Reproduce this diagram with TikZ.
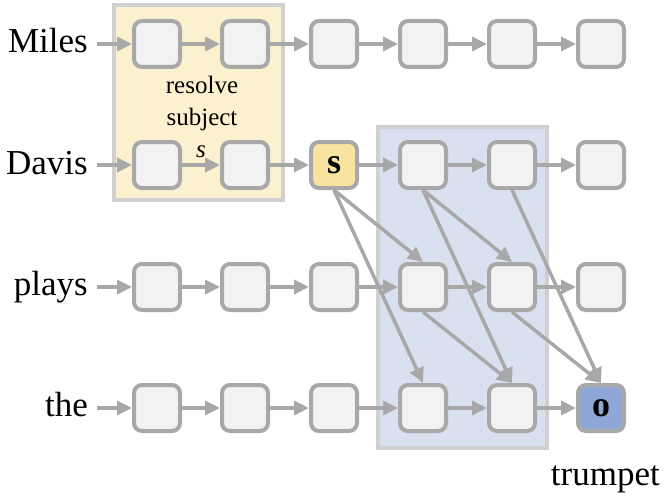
\documentclass[tikz,border=0pt]{standalone}
\usepackage{fontspec}
\setmainfont{Liberation Serif}
\usetikzlibrary{arrows.meta}
\definecolor{edgegray}{HTML}{A8A8A8}
\definecolor{boxfill}{HTML}{F2F2F2}
\definecolor{regborder}{HTML}{D0D0D0}
\definecolor{yellowreg}{HTML}{FCF1CF}
\definecolor{bluereg}{HTML}{D9E0EF}
\definecolor{sfill}{HTML}{F9E3A0}
\definecolor{ofill}{HTML}{8FA7D6}
\begin{document}
\begin{tikzpicture}[x=1pt,y=-1pt,
  cell/.style={draw=edgegray, fill=boxfill, line width=4pt, rounded corners=8pt, minimum size=46pt, inner sep=0pt},
  arr/.style={draw=edgegray, line width=3.5pt, -{Triangle[length=15pt,width=14pt]}},
  word/.style={font=\fontsize{35}{40}\selectfont, inner sep=0pt},
  small/.style={font=\fontsize{25}{30}\selectfont, inner sep=0pt},
  region/.style={draw=regborder, line width=3.5pt},
  boldlbl/.style={font=\bfseries\fontsize{36}{36}\selectfont},
]
\useasboundingbox (0,0) rectangle (668,500);
% regions
\draw[region, fill=yellowreg] (114,5) rectangle (283,200);
\draw[region, fill=bluereg] (378,127) rectangle (547,448);
% row labels
\node[word, anchor=base east] (lMiles) at (88,53) {Miles};
\node[word, anchor=base east] (lDavis) at (88,174) {Davis};
\node[word, anchor=base east] (lplays) at (88,295.5) {plays};
\node[word, anchor=base east] (lthe) at (88,416.5) {the};
\coordinate (i1) at (97,44);
\coordinate (i2) at (97,165);
\coordinate (i3) at (97,287);
\coordinate (i4) at (97,408);
% cells
\foreach \r/\y in {1/44,3/287}{
  \foreach \c/\x in {1/157,2/245,3/334,4/423,5/512,6/601}{
    \node[cell] (r\r c\c) at (\x,\y) {};
  }
}
\foreach \c/\x in {1/157,2/245,4/423,5/512,6/601}{
  \node[cell] (r2c\c) at (\x,165) {};
}
\foreach \c/\x in {1/157,2/245,3/334,4/423,5/512}{
  \node[cell] (r4c\c) at (\x,408) {};
}
\node[cell, fill=sfill, boldlbl] (sbox) at (334,165) {s};
\node[cell, fill=ofill, boldlbl] (obox) at (601,408) {o};
% region texts
\node[small, anchor=base] (t1) at (202,94) {resolve};
\node[small, anchor=base] (t2) at (202,125) {subject};
\node[small, anchor=base, font=\itshape\fontsize{25}{30}\selectfont] (t3) at (201,157) {s};
\node[word, anchor=base east] (ttrumpet) at (660,485) {trumpet};
% horizontal arrows
\draw[arr] (i1) -- (r1c1);
\draw[arr] (i2) -- (r2c1);
\draw[arr] (i3) -- (r3c1);
\draw[arr] (i4) -- (r4c1);
\foreach \r in {1,3}{
  \draw[arr] (r\r c1) -- (r\r c2);
  \draw[arr] (r\r c2) -- (r\r c3);
  \draw[arr] (r\r c3) -- (r\r c4);
  \draw[arr] (r\r c4) -- (r\r c5);
  \draw[arr] (r\r c5) -- (r\r c6);
}
\draw[arr] (r2c1) -- (r2c2);
\draw[arr] (r2c2) -- (sbox);
\draw[arr] (sbox) -- (r2c4);
\draw[arr] (r2c4) -- (r2c5);
\draw[arr] (r2c5) -- (r2c6);
\draw[arr] (r4c1) -- (r4c2);
\draw[arr] (r4c2) -- (r4c3);
\draw[arr] (r4c3) -- (r4c4);
\draw[arr] (r4c4) -- (r4c5);
\draw[arr] (r4c5) -- (obox);
% diagonal arrows
\draw[arr] (sbox.south) -- (r3c4.north);
\draw[arr] (sbox.south) -- (r4c4.north);
\draw[arr] (r2c4.south) -- (r3c5.north);
\draw[arr] (r2c4.south) -- (r4c5.north);
\draw[arr] (r2c5.south) -- (obox.north);
\draw[arr] (r3c4.south) -- (r4c5.north);
\draw[arr] (r3c5.south) -- (obox.north);
\end{tikzpicture}
\end{document}
